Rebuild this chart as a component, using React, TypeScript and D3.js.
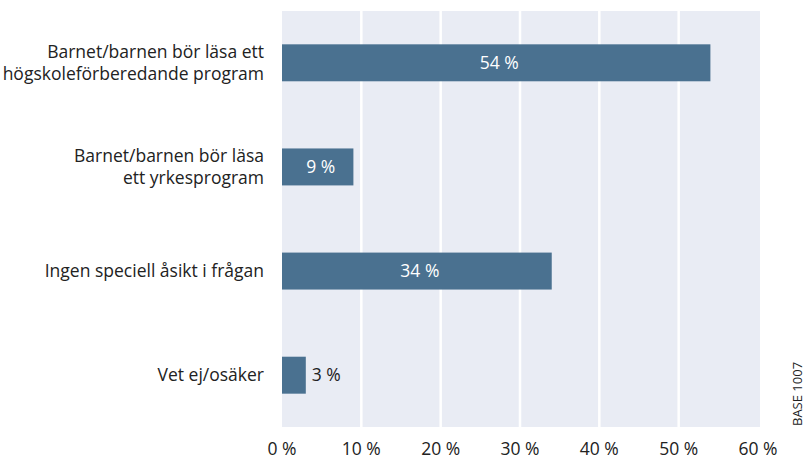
import React, {useEffect, useRef} from 'react';
import * as d3 from 'd3';

// Chart data
const categories: string[][] = [
    ['Barnet/barnen bör läsa ett', 'högskoleförberedande program'],
    ['Barnet/barnen bör läsa', 'ett yrkesprogram'],
    ['Ingen speciell åsikt i frågan'],
    ['Vet ej/osäker'],
];
const values: number[] = [54, 9, 34, 3];
const tickValues: number[] = [0, 10, 20, 30, 40, 50, 60];
const baseNote = 'BASE 1007';

export default function App() {
    const svgRef = useRef<SVGSVGElement>(null);

    const svgWidth = 810,
        svgHeight = 459;

    const margin = {top: 11, right: 50, bottom: 32, left: 282};
    const fontFamily = '"Open Sans", "DejaVu Sans", sans-serif';

    useEffect(() => {
        const svg = d3.select(svgRef.current);
        svg.selectAll('*').remove();

        const x = d3.scaleLinear()
            .domain([0, 60])
            .range([margin.left, 758]);

        const y = d3.scaleBand<number>()
            .domain(d3.range(values.length))
            .range([margin.top, svgHeight - margin.bottom])
            .paddingInner(0.645)
            .paddingOuter(0.32);

        // Plot background
        svg.append('rect')
            .attr('x', margin.left)
            .attr('y', margin.top)
            .attr('width', 760 - margin.left)
            .attr('height', svgHeight - margin.bottom - margin.top)
            .attr('fill', '#e9ecf4');

        // Gridlines
        svg.append('g')
            .selectAll('line')
            .data(tickValues.slice(1, -1))
            .enter()
            .append('line')
            .attr('x1', d => x(d))
            .attr('x2', d => x(d))
            .attr('y1', margin.top)
            .attr('y2', svgHeight - margin.bottom)
            .attr('stroke', '#ffffff')
            .attr('stroke-width', 2.5);

        // Bars
        svg.append('g')
            .selectAll('rect')
            .data(values)
            .enter()
            .append('rect')
            .attr('x', x(0))
            .attr('y', (d, i) => y(i)!)
            .attr('width', d => x(d) - x(0))
            .attr('height', y.bandwidth())
            .attr('fill', '#4a7190');

        // Value labels
        svg.append('g')
            .selectAll('text')
            .data(values)
            .enter()
            .append('text')
            .attr('x', d => d >= 5 ? (x(d) + x(0)) / 2 + 3 : x(d) + 6)
            .attr('y', (d, i) => y(i)! + y.bandwidth() / 2)
            .attr('dy', '0.35em')
            .attr('text-anchor', d => d >= 5 ? 'middle' : 'start')
            .attr('fill', d => d >= 5 ? '#ffffff' : '#222222')
            .style('font-family', fontFamily)
            .style('font-size', '17.5px')
            .text(d => `${d} %`);

        // Category labels
        const catGroup = svg.append('g');
        categories.forEach((lines, i) => {
            const cy = y(i)! + y.bandwidth() / 2;
            const lineHeight = 22;
            const text = catGroup.append('text')
                .attr('text-anchor', 'end')
                .attr('fill', '#222222')
                .style('font-family', fontFamily)
                .style('font-size', '17.5px');
            lines.forEach((line, j) => {
                text.append('tspan')
                    .attr('x', 264)
                    .attr('y', cy + (j - (lines.length - 1) / 2) * lineHeight)
                    .attr('dy', '0.35em')
                    .text(line);
            });
        });

        // X axis tick labels
        svg.append('g')
            .selectAll('text')
            .data(tickValues)
            .enter()
            .append('text')
            .attr('x', d => x(d))
            .attr('y', 449)
            .attr('dy', '0.35em')
            .attr('text-anchor', 'middle')
            .attr('fill', '#222222')
            .style('font-family', fontFamily)
            .style('font-size', '17.5px')
            .text(d => `${d} %`);

        // Base note
        svg.append('text')
            .attr('transform', `translate(802,${svgHeight - margin.bottom - 1}) rotate(-90)`)
            .attr('fill', '#222222')
            .style('font-family', fontFamily)
            .style('font-size', '13px')
            .text(baseNote);
    });

    return (
        <div style={{position: 'absolute', left: 0, top: 0}}>
            <svg ref={svgRef} width={svgWidth} height={svgHeight} style={{display: 'block'}}/>
        </div>
    );
}
